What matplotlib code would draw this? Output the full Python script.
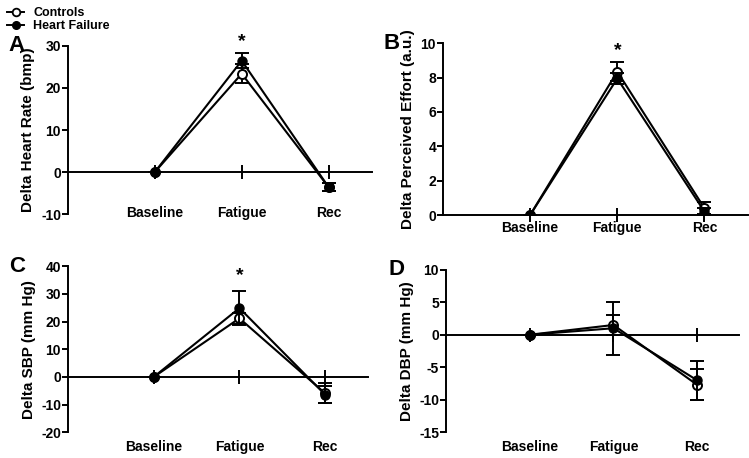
import matplotlib
matplotlib.use("Agg")
import matplotlib.pyplot as plt
from matplotlib.lines import Line2D

plt.rcParams["font.family"] = ["Liberation Sans", "DejaVu Sans"]
plt.rcParams["font.weight"] = "bold"
plt.rcParams["axes.unicode_minus"] = False

categories = ["Baseline", "Fatigue", "Rec"]
x = [1, 2, 3]

# Panel A - heart rate
hr_ctrl = [0, 23.4, -3.6]
hr_ctrl_err = [0, 2.2, 1.0]
hr_hf = [0, 26.5, -3.6]
hr_hf_err = [0, 1.8, 1.0]

# Panel B - perceived effort
rpe_ctrl = [0, 8.35, 0.4]
rpe_ctrl_err = [0, 0.55, 0.35]
rpe_hf = [0, 7.95, 0.2]
rpe_hf_err = [0, 0.3, 0.2]

# Panel C - systolic BP
sbp_ctrl = [0, 21.2, -5.9]
sbp_ctrl_err = [0, 1.9, 3.6]
sbp_hf = [0, 24.9, -6.4]
sbp_hf_err = [0, 6.0, 3.0]

# Panel D - diastolic BP
dbp_ctrl = [0, 1.5, -7.7]
dbp_ctrl_err = [0, 1.6, 2.4]
dbp_hf = [0, 1.0, -7.0]
dbp_hf_err = [0, 4.1, 3.0]

panels = [
    dict(letter="A", ylabel="Delta Heart Rate (bmp)", ylim=(-10, 30), yticks=[-10, 0, 10, 20, 30],
         ctrl=hr_ctrl, ctrl_err=hr_ctrl_err, hf=hr_hf, hf_err=hr_hf_err, star=31.0,
         rect=[68 / 749, 1 - 214 / 458, 304 / 749, 168 / 458], catpos=0.006),
    dict(letter="B", ylabel="Delta Perceived Effort (a.u.)", ylim=(0, 10), yticks=[0, 2, 4, 6, 8, 10],
         ctrl=rpe_ctrl, ctrl_err=rpe_ctrl_err, hf=rpe_hf, hf_err=rpe_hf_err, star=9.6,
         rect=[443 / 749, 1 - 215 / 458, 305 / 749, 171.7 / 458], catpos=-0.076),
    dict(letter="C", ylabel="Delta SBP (mm Hg)", ylim=(-20, 40), yticks=[-20, -10, 0, 10, 20, 30, 40],
         ctrl=sbp_ctrl, ctrl_err=sbp_ctrl_err, hf=sbp_hf, hf_err=sbp_hf_err, star=36.6,
         rect=[68 / 749, 1 - 432.3 / 458, 300 / 749, 166 / 458], catpos=-0.089),
    dict(letter="D", ylabel="Delta DBP (mm Hg)", ylim=(-15, 10), yticks=[-15, -10, -5, 0, 5, 10],
         ctrl=dbp_ctrl, ctrl_err=dbp_ctrl_err, hf=dbp_hf, hf_err=dbp_hf_err, star=None,
         rect=[446 / 749, 1 - 432.3 / 458, 293 / 749, 162.6 / 458], catpos=-0.093),
]

fig = plt.figure(figsize=(7.49, 4.58), dpi=100)

for p in panels:
    ax = fig.add_axes(p["rect"])
    ax.errorbar(x, p["ctrl"], yerr=p["ctrl_err"], color="black", lw=1.5, marker="o",
                ms=6.5, mfc="white", mec="black", mew=1.4, capsize=5, capthick=1.4,
                elinewidth=1.4, zorder=3)
    ax.errorbar(x, p["hf"], yerr=p["hf_err"], color="black", lw=1.5, marker="o",
                ms=6.5, mfc="black", mec="black", capsize=5, capthick=1.4,
                elinewidth=1.4, zorder=4)
    ax.set_xlim(0, 3.5)
    ax.set_ylim(*p["ylim"])
    ax.set_yticks(p["yticks"])
    ax.set_xticks(x)
    ax.set_xticklabels([])
    ax.spines["top"].set_visible(False)
    ax.spines["right"].set_visible(False)
    ax.spines["bottom"].set_position(("data", 0))
    ax.spines["left"].set_linewidth(1.4)
    ax.spines["bottom"].set_linewidth(1.4)
    ax.tick_params(axis="x", direction="inout", length=10, width=1.4)
    ax.tick_params(axis="y", direction="out", length=4, width=1.4, labelsize=10, pad=1)
    for lab in ax.get_yticklabels():
        lab.set_fontweight("bold")
    ax.set_ylabel(p["ylabel"], fontsize=11, fontweight="bold", labelpad=4)
    for xi, cat in zip(x, categories):
        ax.text(xi, p["catpos"], cat, transform=ax.get_xaxis_transform(), ha="center",
                va="center", fontsize=10, fontweight="bold")
    if p["star"] is not None:
        ax.text(2, p["star"], "*", ha="center", va="center", fontsize=14, fontweight="bold")
    ax.text(-0.17, 1.0, p["letter"], transform=ax.transAxes, fontsize=16, fontweight="bold",
            ha="center", va="center")

handles = [
    Line2D([], [], color="black", lw=1.4, marker="o", ms=5.5, mfc="white", mec="black", mew=1.3),
    Line2D([], [], color="black", lw=1.4, marker="o", ms=5.5, mfc="black", mec="black"),
]
fig.legend(handles, ["Controls", "Heart Failure"], loc="upper left", bbox_to_anchor=(0.0, 1.0),
           frameon=False, handlelength=1.4, handletextpad=0.7, labelspacing=0.1,
           borderaxespad=0.15, prop={"weight": "bold", "size": 9})

fig.savefig("out.png", dpi=100)
